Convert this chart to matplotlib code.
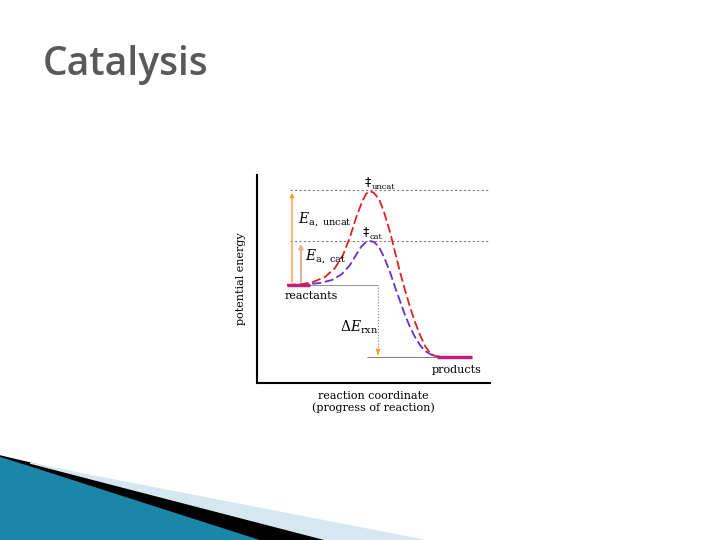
import matplotlib.pyplot as plt
from matplotlib.patches import Polygon

plt.rcParams['mathtext.fontset'] = 'dejavuserif'

# curve samples (x: reaction coordinate px, y: energy px above axis)
uncat_x = [287, 300, 313, 325, 335, 343, 350, 356, 362, 366, 370, 374, 379, 384, 390,
           395, 400, 405, 410, 415, 420, 425, 430, 435, 442, 472]
uncat_y = [98, 98.5, 101, 106, 115, 128, 146, 165, 181, 189, 192, 190, 184, 171, 151,
           131, 111, 93, 76, 61, 48, 37, 30, 27, 26, 26]
cat_x = [287, 305, 320, 332, 342, 350, 356, 361, 366, 370, 374, 379, 384, 390, 395,
         400, 405, 410, 415, 420, 425, 432, 440, 472]
cat_y = [98, 98.5, 100, 103, 109, 118, 128, 136, 141, 142, 141, 136, 126, 111, 96,
         82, 68, 56, 46, 38, 32, 28, 26, 26]
e_react, e_uncat, e_cat, e_prod = 98, 193, 142, 26

fig = plt.figure(figsize=(7.2, 5.4), dpi=100)
bg = fig.add_axes([0, 0, 1, 1])
bg.set_xlim(0, 720)
bg.set_ylim(540, 0)
bg.axis('off')
bg.text(43, 65, 'Catalysis', fontsize=28, fontweight='semibold', color='#595959',
        va='center', family='Open Sans')
bg.add_patch(Polygon([(0, 456), (262, 540), (0, 540)], color='#1a86a8'))
bg.add_patch(Polygon([(0, 456), (30, 463), (327, 540), (262, 540)], color='black'))
bg.add_patch(Polygon([(30, 463), (83, 474), (423, 540), (327, 540)], color='#d6e8ef'))

ax = fig.add_axes([257 / 720, 157 / 540, 233 / 720, 208 / 540])
ax.set_xlim(257, 490)
ax.set_ylim(0, 208)
for s in ['top', 'right']:
    ax.spines[s].set_visible(False)
ax.spines['left'].set_linewidth(1.5)
ax.spines['bottom'].set_linewidth(1.5)
ax.set_xticks([])
ax.set_yticks([])

ax.hlines([e_uncat, e_cat], 290, 490, colors='gray', linestyles=(0, (2, 2)), lw=0.8)
ax.hlines(e_react, 287, 378, colors='gray', lw=0.6)
ax.hlines(e_prod, 367, 472, colors='gray', lw=0.8)
ax.vlines(378, e_prod + 4, e_react, colors='gray', linestyles=':', lw=0.8)

ax.plot(uncat_x, uncat_y, color='#e02020', ls=(0, (5, 2)), lw=1.3)
ax.plot(cat_x, cat_y, color='#6a2bd0', ls=(0, (5, 2)), lw=1.3)
ax.hlines(e_react, 287, 310, colors='#c0207a', lw=2.5)
ax.hlines(e_prod, 437, 472, colors='#c0207a', lw=2.5)

ax.annotate('', xy=(292, e_uncat), xytext=(292, e_react),
            arrowprops=dict(arrowstyle='-|>', color='#f0a030', lw=1, mutation_scale=6))
ax.annotate('', xy=(301, e_cat), xytext=(301, e_react),
            arrowprops=dict(arrowstyle='-|>', color='#e8b090', lw=1.5, mutation_scale=6))
ax.annotate('', xy=(378, e_prod), xytext=(378, e_prod + 6),
            arrowprops=dict(arrowstyle='-|>', color='#f0a030', lw=1, mutation_scale=6))

serif = dict(family='DejaVu Serif', fontsize=8)
ax.text(298, 163, r'$E_{\mathrm{a,\ uncat}}$', fontsize=10, va='center')
ax.text(305, 126, r'$E_{\mathrm{a,\ cat}}$', fontsize=10, va='center')
ax.text(368, 201, '‡', fontsize=9, ha='center', va='center')
ax.text(372, 196, 'uncat', va='center', **dict(serif, fontsize=6))
ax.text(366, 151, '‡', fontsize=9, ha='center', va='center')
ax.text(370, 146, 'cat', va='center', **dict(serif, fontsize=6))
ax.text(285, 87, 'reactants', va='center', **serif)
ax.text(340, 56, r'$\Delta E_{\mathrm{rxn}}$', fontsize=10, va='center')
ax.text(432, 13, 'products', va='center', **serif)
ax.set_ylabel('potential energy', labelpad=8, **serif)
ax.set_xlabel('reaction coordinate\n(progress of reaction)', labelpad=6, linespacing=1.1, **serif)

fig.savefig('out.png', dpi=100)
